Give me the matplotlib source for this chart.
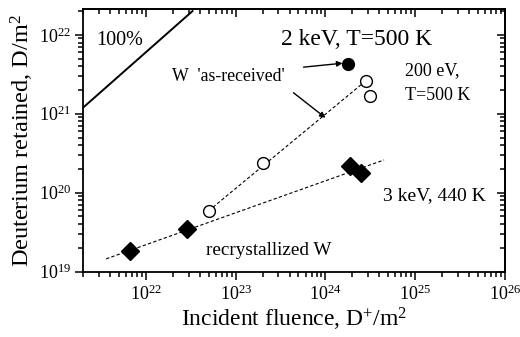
import matplotlib
matplotlib.use("Agg")
import matplotlib.pyplot as plt
from matplotlib.ticker import FixedLocator, LogLocator, NullFormatter

plt.rcParams["font.family"] = ["Liberation Serif", "DejaVu Serif"]
plt.rcParams["mathtext.fontset"] = "custom"
plt.rcParams["mathtext.rm"] = "Liberation Serif"
plt.rcParams["mathtext.it"] = "Liberation Serif:italic"

# W 'as-received', 200 eV, 500 K (open circles)
ar_fluence = [5e22, 2e23, 2.8e24, 3.1e24]
ar_retained = [5.9e19, 2.4e20, 2.6e21, 1.7e21]
# 2 keV, 500 K (filled circle)
hot_fluence = [1.8e24]
hot_retained = [4.3e21]
# recrystallized W, 3 keV, 440 K (diamonds)
rx_fluence = [6.7e21, 2.9e22, 1.9e24, 2.5e24]
rx_retained = [1.8e19, 3.5e19, 2.2e20, 1.8e20]
# guide lines
ar_fit_x = [5e22, 2.8e24]
ar_fit_y = [5.9e19, 2.6e21]
rx_fit_x = [3.6e21, 4.5e24]
rx_fit_y = [1.45e19, 2.6e20]
full_x = [2e21, 3.3e22]
full_y = [1.2e21, 2e22]

fig = plt.figure(figsize=(5.2, 3.37), dpi=100)
ax = fig.add_axes([0.16, 0.194, 0.811, 0.778])

ax.plot(full_x, full_y, color="black", lw=1.4)
ax.plot(ar_fit_x, ar_fit_y, color="black", lw=0.8, dashes=(3, 2))
ax.plot(rx_fit_x, rx_fit_y, color="black", lw=0.8, dashes=(3, 2))
ax.plot(ar_fluence, ar_retained, "o", ms=8.5, mfc="white", mec="black", mew=1.0)
ax.plot(hot_fluence, hot_retained, "o", ms=8.5, color="black")
ax.plot(rx_fluence, rx_retained, "D", ms=9.3, color="black")

ax.set_xscale("log")
ax.set_yscale("log")
ax.set_xlim(2e21, 1e26)
ax.set_ylim(1e19, 2.1e22)


def log_ticks(axis, first, last):
    minors = [m * 10.0 ** e for e in range(first, last) for m in range(2, 10)]
    axis.set_major_locator(LogLocator(base=10, numticks=100))
    axis.set_minor_locator(FixedLocator(minors))
    axis.set_minor_formatter(NullFormatter())


log_ticks(ax.xaxis, 21, 26)
log_ticks(ax.yaxis, 19, 23)
ax.tick_params(which="both", direction="out", labelsize=13, width=1.1)
ax.tick_params(which="major", length=5.5)
ax.tick_params(which="minor", length=3.5)
ax.tick_params(axis="y", which="both", pad=3)

# inward ticks on the top and right frame
top = ax.secondary_xaxis("top")
right = ax.secondary_yaxis("right")
log_ticks(top.xaxis, 21, 26)
log_ticks(right.yaxis, 19, 23)
for sec in (top, right):
    sec.tick_params(which="both", direction="in", width=1.1)
    sec.tick_params(which="major", length=5.5)
    sec.tick_params(which="minor", length=3.5)
top.xaxis.set_major_formatter(NullFormatter())
right.yaxis.set_major_formatter(NullFormatter())

for a in (ax, top, right):
    for spine in a.spines.values():
        spine.set_linewidth(1.3)

ax.set_xlabel("Incident fluence, D$^{+}$/m$^{2}$", fontsize=17, labelpad=2)
ax.set_ylabel("Deuterium retained, D/m$^{2}$", fontsize=17.5, labelpad=2)

ax.text(2.8e21, 8.5e21, "100%", fontsize=14.5, va="center")
ax.text(3.2e23, 8.7e21, "2 keV, T=500 K", fontsize=17, va="center")
ax.text(1.95e22, 2.96e21, "W  'as-received'", fontsize=12.8, va="center")
ax.text(7.8e24, 3.5e21, "200 eV,", fontsize=13, va="center")
ax.text(7.8e24, 1.7e21, "T=500 K", fontsize=13, va="center")
ax.text(4.4e24, 9.1e19, "3 keV, 440 K", fontsize=14, va="center")
ax.text(4.7e22, 1.87e19, "recrystallized W", fontsize=13.8, va="center")

arrow = dict(arrowstyle="-|>", color="black", lw=1.0, mutation_scale=8, shrinkA=0, shrinkB=0)
ax.annotate("", xy=(1.55e24, 4.37e21), xytext=(5.7e23, 3.9e21), arrowprops=arrow)
ax.annotate("", xy=(1.0e24, 8.9e20), xytext=(4.4e23, 1.85e21), arrowprops=arrow)

fig.savefig("out.png", dpi=100)
